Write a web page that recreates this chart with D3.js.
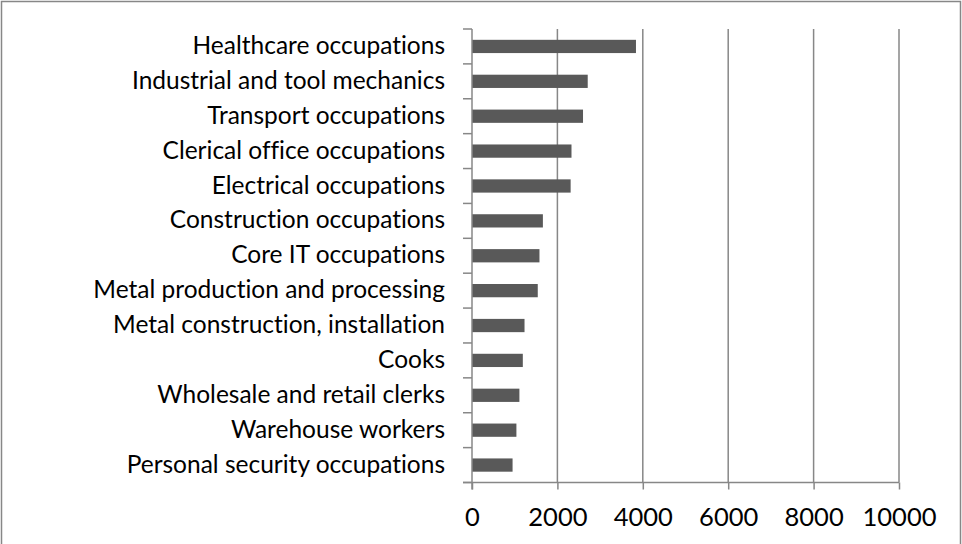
<!DOCTYPE html>
<html>
<head>
<meta charset="utf-8">
<script src="https://cdn.jsdelivr.net/npm/d3@7"></script>
<style>
  html, body { margin: 0; padding: 0; background: #fff; }
  svg { display: block; font-family: Lato, "Open Sans", sans-serif; font-variant-ligatures: none; }
</style>
</head>
<body>
<svg id="chart" width="962" height="544"></svg>
<script>
// ── Data ─────────────────────────────────────────────────────────────
const occupations = [
  'Healthcare occupations',
  'Industrial and tool mechanics',
  'Transport occupations',
  'Clerical office occupations',
  'Electrical occupations',
  'Construction occupations',
  'Core IT occupations',
  'Metal production and processing',
  'Metal construction, installation',
  'Cooks',
  'Wholesale and retail clerks',
  'Warehouse workers',
  'Personal security occupations'
];
const values = [3840, 2710, 2600, 2330, 2310, 1660, 1580, 1540, 1230, 1190, 1110, 1040, 950];
const xTicks = [0, 2000, 4000, 6000, 8000, 10000];

// ── Layout ───────────────────────────────────────────────────────────
const svg = d3.select('#chart');
const plot = { left: 472, right: 899, top: 29, bottom: 482.5 };
const GRID = '#878787';
const BAR = '#595959';
const LABEL_SIZE = 24.5;
const TICK_SIZE = 25.5;

// outer chart border
svg.append('rect')
  .attr('x', 1.5).attr('y', 1.5)
  .attr('width', 959).attr('height', 580)
  .attr('fill', 'none')
  .attr('stroke', GRID)
  .attr('stroke-width', 1.5);

const x = d3.scaleLinear().domain([0, 10000]).range([plot.left, plot.right]);
const y = d3.scaleBand()
  .domain(occupations)
  .range([plot.top, plot.bottom])
  .paddingInner(0.62)
  .paddingOuter(0.31);

// ── Gridlines ────────────────────────────────────────────────────────
svg.append('g')
  .selectAll('line')
  .data(xTicks.slice(1))
  .join('line')
  .attr('x1', d => x(d)).attr('x2', d => x(d))
  .attr('y1', plot.top).attr('y2', plot.bottom)
  .attr('stroke', GRID).attr('stroke-width', 1.5);

// ── Bars ─────────────────────────────────────────────────────────────
svg.append('g')
  .selectAll('rect')
  .data(occupations)
  .join('rect')
  .attr('x', x(0))
  .attr('y', d => y(d))
  .attr('width', (d, i) => x(values[i]) - x(0))
  .attr('height', y.bandwidth())
  .attr('fill', BAR);

// ── X axis ───────────────────────────────────────────────────────────
const xAxis = svg.append('g')
  .attr('transform', `translate(0,${plot.bottom})`)
  .call(d3.axisBottom(x).tickValues(xTicks).tickSize(7).tickPadding(25).tickFormat(d3.format('d')));
xAxis.select('.domain').remove();
xAxis.append('line')
  .attr('x1', plot.left - 9).attr('x2', plot.right)
  .attr('stroke', GRID).attr('stroke-width', 1.5);
xAxis.selectAll('.tick line').attr('stroke', GRID).attr('stroke-width', 1.5);
xAxis.selectAll('.tick text')
  .attr('dy', null)
  .attr('fill', '#000')
  .attr('font-size', TICK_SIZE)
  .attr('font-family', 'Lato, "Open Sans", sans-serif')
  .attr('y', 526 - plot.bottom);

// ── Y axis (ticks sit on category boundaries) ────────────────────────
const yAxis = svg.append('g');
yAxis.append('line')
  .attr('x1', plot.left).attr('x2', plot.left)
  .attr('y1', plot.top).attr('y2', plot.bottom + 7)
  .attr('stroke', GRID).attr('stroke-width', 1.5);
yAxis.selectAll('line.tick')
  .data(d3.range(occupations.length + 1))
  .join('line')
  .attr('class', 'tick')
  .attr('x1', plot.left - 9).attr('x2', plot.left)
  .attr('y1', i => plot.top + i * y.step())
  .attr('y2', i => plot.top + i * y.step())
  .attr('stroke', GRID).attr('stroke-width', 1.5);

yAxis.selectAll('text')
  .data(occupations)
  .join('text')
  .attr('x', plot.left - 27)
  .attr('y', d => y(d) + y.bandwidth() / 2)
  .attr('dy', '0.31em')
  .attr('text-anchor', 'end')
  .attr('font-size', LABEL_SIZE)
  .attr('fill', '#000')
  .text(d => d);
</script>
</body>
</html>
